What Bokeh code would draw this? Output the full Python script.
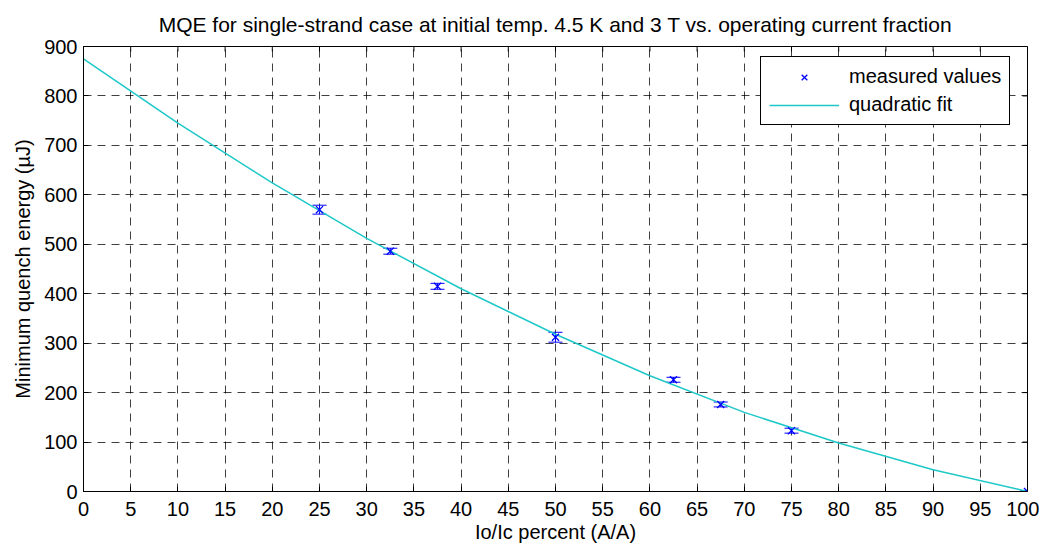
from bokeh.plotting import figure
from bokeh.models import (Range1d, Whisker, ColumnDataSource, Legend,
                          LegendItem, TeeHead, FixedTicker)
from bokeh.embed import file_html
from bokeh.resources import INLINE

# ---- data ----
current_pct = [25, 32.5, 37.5, 50, 62.5, 67.5, 75, 100]
mqe_uJ = [570, 486, 415, 312, 226, 176, 123, 0]
mqe_err = [9, 6, 6, 10, 5, 5, 5, 2]

fit_x = [0, 10, 20, 30, 40, 50, 60, 70, 80, 90, 100]
fit_y = [875, 745, 624, 512, 410, 318, 234, 160, 98, 44, 0]

x_ticks = list(range(0, 101, 5))
y_ticks = list(range(0, 901, 100))

FONT = "Liberation Sans"
FS = "20px"
X_MIN, X_MAX, Y_MIN, Y_MAX = 0, 100, 0, 900
FRAME_W, FRAME_H = 944, 445
TICK_PX = 5
BLUE = "#0000ff"
CYAN = "#1ec8c8"

src = ColumnDataSource(dict(
    x=current_pct, y=mqe_uJ,
    upper=[v + e for v, e in zip(mqe_uJ, mqe_err)],
    lower=[v - e for v, e in zip(mqe_uJ, mqe_err)],
))
fit_src = ColumnDataSource(dict(x=fit_x, y=fit_y))

p = figure(frame_width=FRAME_W, frame_height=FRAME_H, output_backend="svg", toolbar_location=None,
           x_range=Range1d(X_MIN, X_MAX), y_range=Range1d(Y_MIN, Y_MAX),
           min_border_left=83, min_border_right=12, min_border_top=46, min_border_bottom=49,
           title="MQE for single-strand case at initial temp. 4.5 K and 3 T vs. operating current fraction")

p.title.text_font = FONT
p.title.text_font_size = "21px"
p.title.text_font_style = "normal"
p.title.align = "center"
p.title.text_color = "black"
p.title.standoff = 21

p.background_fill_color = "white"
p.border_fill_color = "white"
p.outline_line_color = "black"
p.outline_line_width = 1
p.outline_line_alpha = 1

for ax in (p.xaxis[0], p.yaxis[0]):
    ax.major_tick_in = TICK_PX
    ax.major_tick_out = 0
    ax.minor_tick_line_color = None
    ax.axis_line_color = "black"
    ax.major_tick_line_color = "black"
    ax.major_label_text_font = FONT
    ax.major_label_text_font_size = FS
    ax.major_label_text_color = "black"
    ax.axis_label_text_font = FONT
    ax.axis_label_text_font_size = FS
    ax.axis_label_text_font_style = "normal"
    ax.axis_label_text_color = "black"

p.xaxis[0].ticker = FixedTicker(ticks=x_ticks)
p.yaxis[0].ticker = FixedTicker(ticks=y_ticks)
p.xaxis[0].axis_label = "Io/Ic percent (A/A)"
p.yaxis[0].axis_label = "Minimum quench energy (\u00b5J)"
p.xaxis[0].major_label_standoff = 10
p.xaxis[0].axis_label_standoff = 2
p.yaxis[0].major_label_standoff = 6
p.yaxis[0].axis_label_standoff = 7

# inward ticks on the top and right edges of the box
ty = TICK_PX * (Y_MAX - Y_MIN) / FRAME_H
tx = TICK_PX * (X_MAX - X_MIN) / FRAME_W
p.segment(x0=x_ticks, x1=x_ticks, y0=[Y_MAX] * len(x_ticks), y1=[Y_MAX - ty] * len(x_ticks),
          line_color="black", line_width=1)
p.segment(x0=[X_MAX] * len(y_ticks), x1=[X_MAX - tx] * len(y_ticks), y0=y_ticks, y1=y_ticks,
          line_color="black", line_width=1)

for g in (p.xgrid[0], p.ygrid[0]):
    g.grid_line_color = "black"
    g.grid_line_alpha = 0.75
    g.grid_line_dash = "8 6"
    g.grid_line_width = 1
p.xgrid[0].ticker = FixedTicker(ticks=x_ticks)
p.ygrid[0].ticker = FixedTicker(ticks=y_ticks)

line_r = p.line("x", "y", source=fit_src, line_color=CYAN, line_width=1.5)

whisk = Whisker(base="x", upper="upper", lower="lower", source=src, line_color=BLUE,
                line_width=1,
                upper_head=TeeHead(size=14, line_color=BLUE, line_width=1),
                lower_head=TeeHead(size=14, line_color=BLUE, line_width=1))
p.add_layout(whisk)

pts_r = p.scatter("x", "y", source=src, marker="x", size=10, color=BLUE, line_width=1.3)

legend = Legend(items=[LegendItem(label="measured values", renderers=[pts_r]),
                       LegendItem(label="quadratic fit", renderers=[line_r])],
                location=(677, 366), padding=8, spacing=5, label_height=20, glyph_height=20,
                glyph_width=70, label_standoff=10, border_line_color="black", border_line_width=1,
                border_line_alpha=1, background_fill_color="white", background_fill_alpha=1,
                label_text_font=FONT, label_text_font_size=FS, label_text_color="black")
p.add_layout(legend)

open("out.html", "w").write(file_html(p, INLINE))
